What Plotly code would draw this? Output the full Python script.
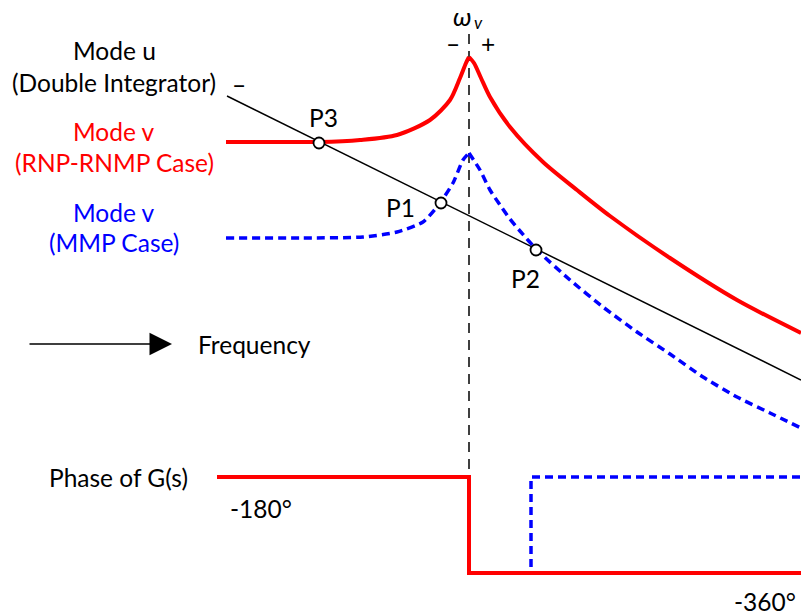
import plotly.graph_objects as go

# Diagram coordinates: x grows with frequency, y is drawn top-down (reversed axis)
W, H = 801, 616
omega_v = 469

# Mode u: double integrator asymptote (straight line)
mode_u_x = [227, 801]
mode_u_y = [96, 380]

# Mode v, RNP-RNMP case (solid red), split at the resonance peak
red_left_x = [226, 280, 319, 360, 397, 430, 450, 460, 466, 469]
red_left_y = [142, 142, 142, 140, 135, 120, 100, 78, 63, 57]
red_right_x = [469, 474, 481, 490, 510, 543, 577, 610, 670, 737, 801]
red_right_y = [57, 63, 78, 97, 127, 162, 190, 216, 258, 300, 333]

# Mode v, MMP case (dotted blue), split at the resonance peak
blue_left_x = [226, 300, 363, 397, 423, 440, 453, 463, 469]
blue_left_y = [238, 238, 237, 232, 222, 203, 183, 160, 153]
blue_right_x = [469, 480, 490, 500, 510, 520, 537, 570, 603, 637, 670, 703, 737, 770, 801]
blue_right_y = [153, 170, 190, 205, 219, 231, 250, 280, 307, 332, 354, 377, 397, 413, 428]

# Crossing points
cross_x = [441, 536, 319]
cross_y = [203, 250, 143]
cross_lbl = ["P1", "P2", "P3"]
cross_lbl_x = [400, 525, 323]
cross_lbl_y = [207, 278, 117]

# Phase of G(s): -180 level and -360 level
phase_hi, phase_lo = 477, 573
phase_start = 217
mmp_return = 531
red_phase_x = [phase_start, omega_v, omega_v, W]
red_phase_y = [phase_hi, phase_hi, phase_lo, phase_lo]
blue_phase_x = [phase_start, omega_v, omega_v, mmp_return, mmp_return, W]
blue_phase_y = [phase_hi, phase_hi, phase_lo, phase_lo, phase_hi, phase_hi]

RED = "#ff0000"
BLUE = "#0000ff"
FONT = "Lato"
FS = 24.5

fig = go.Figure()

# omega_v marker line
fig.add_trace(go.Scatter(x=[omega_v, omega_v], y=[34, 575], mode="lines",
                         line=dict(color="black", width=1.5, dash="10px,7px"),
                         hoverinfo="skip"))

fig.add_trace(go.Scatter(x=mode_u_x, y=mode_u_y, mode="lines",
                         line=dict(color="black", width=1.5), hoverinfo="skip"))

for xs, ys in [(blue_left_x, blue_left_y), (blue_right_x, blue_right_y)]:
    fig.add_trace(go.Scatter(x=xs, y=ys, mode="lines",
                             line=dict(color=BLUE, width=3.5, dash="8px,5px",
                                       shape="spline", smoothing=0.6),
                             hoverinfo="skip"))
for xs, ys in [(red_left_x, red_left_y), (red_right_x, red_right_y)]:
    fig.add_trace(go.Scatter(x=xs, y=ys, mode="lines",
                             line=dict(color=RED, width=4, shape="spline", smoothing=0.8),
                             hoverinfo="skip"))

# Phase traces
fig.add_trace(go.Scatter(x=blue_phase_x, y=blue_phase_y, mode="lines",
                         line=dict(color=BLUE, width=3.5, dash="8px,5px"),
                         hoverinfo="skip"))
fig.add_trace(go.Scatter(x=red_phase_x, y=red_phase_y, mode="lines",
                         line=dict(color=RED, width=4), hoverinfo="skip"))

# Crossing markers
fig.add_trace(go.Scatter(x=cross_x, y=cross_y, mode="markers",
                         marker=dict(size=11, color="white",
                                     line=dict(color="black", width=1.8)),
                         hoverinfo="skip"))

ann = []

def txt(x, y, s, color="black", size=FS, xanchor="center"):
    ann.append(dict(x=x, y=y, text=s, showarrow=False, xanchor=xanchor,
                    yanchor="middle", font=dict(family=FONT, size=size, color=color)))

txt(114, 50, "Mode u")
txt(114, 82, "(Double Integrator)")
txt(239, 84, "–")
txt(114, 131, "Mode v", RED)
txt(114, 162, "(RNP-RNMP Case)", RED)
txt(114, 212, "Mode v", BLUE)
txt(114, 242, "(MMP Case)", BLUE)
# omega_v label: symbol and subscript placed separately
txt(462, 16, "<i>ω</i>", size=26)
txt(478, 22, "<i>v</i>", size=17)
txt(453, 43, "–")
txt(488, 43, "+")
for lx, ly, s in zip(cross_lbl_x, cross_lbl_y, cross_lbl):
    txt(lx, ly, s)
txt(196, 344, "Frequency", xanchor="left")
txt(47, 477, "Phase of G(s)", xanchor="left")
txt(228, 508, "-180°", xanchor="left")
txt(798, 601, "-360°", xanchor="right")

# Frequency arrow
ann.append(dict(x=172, y=344, ax=28, ay=344, xref="x", yref="y", axref="x", ayref="y",
                text="", showarrow=True, arrowhead=2, arrowsize=3, arrowwidth=1.5,
                arrowcolor="black"))

fig.update_layout(
    width=W, height=H, margin=dict(l=0, r=0, t=0, b=0),
    paper_bgcolor="white", plot_bgcolor="white", showlegend=False,
    xaxis=dict(range=[0, W], visible=False, fixedrange=True),
    yaxis=dict(range=[H, 0], visible=False, fixedrange=True),
    annotations=ann,
)

fig.write_html("out.html")
